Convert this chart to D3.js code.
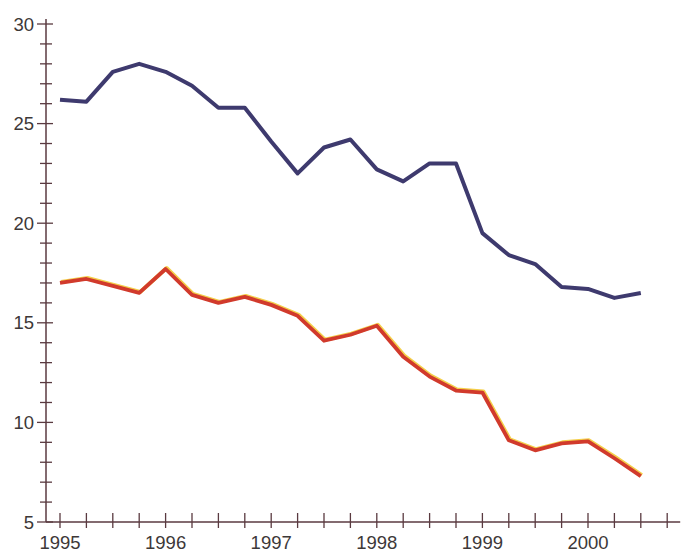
<!DOCTYPE html>
<html>
<head>
<meta charset="utf-8">
<script src="https://cdn.jsdelivr.net/npm/d3@7"></script>
<style>
  body { margin: 0; background: #fff; }
  text { font-family: "Liberation Sans", Arial, sans-serif; fill: #3d3838; }
</style>
</head>
<body>
<div id="chart"></div>
<script>
// quarterly periods (decimal years)
var periods = [1995.0, 1995.25, 1995.5, 1995.75, 1996.0, 1996.25, 1996.5, 1996.75,
               1997.0, 1997.25, 1997.5, 1997.75, 1998.0, 1998.25, 1998.5, 1998.75,
               1999.0, 1999.25, 1999.5, 1999.75, 2000.0, 2000.25, 2000.5];

var upperSeries = [26.2, 26.1, 27.6, 28.0, 27.6, 26.9, 25.8, 25.8,
                   24.1, 22.5, 23.8, 24.2, 22.7, 22.1, 23.0, 23.0,
                   19.5, 18.4, 17.95, 16.8, 16.7, 16.25, 16.5];

var lowerSeries = [17.0, 17.2, 16.85, 16.5, 17.7, 16.4, 16.0, 16.3,
                   15.9, 15.35, 14.1, 14.4, 14.85, 13.3, 12.3, 11.6,
                   11.5, 9.1, 8.6, 8.95, 9.05, 8.2, 7.3];

var yearTicks = [1995, 1996, 1997, 1998, 1999, 2000];
var yMajorTicks = [5, 10, 15, 20, 25, 30];
var xQuarterTicks = [1995, 1995.25, 1995.5, 1995.75, 1996, 1996.25, 1996.5, 1996.75,
                     1997, 1997.25, 1997.5, 1997.75, 1998, 1998.25, 1998.5, 1998.75,
                     1999, 1999.25, 1999.5, 1999.75, 2000, 2000.25, 2000.5, 2000.75];
var yMinorTicks = [6, 7, 8, 9, 11, 12, 13, 14, 16, 17, 18, 19, 21, 22, 23, 24, 26, 27, 28, 29];

var width = 689, height = 555;
var axisColor = "#5a3a40";

var x = d3.scaleLinear().domain([1995, 2000]).range([60, 588]);
var y = d3.scaleLinear().domain([5, 30]).range([522, 24]);

var svg = d3.select("#chart").append("svg")
    .attr("width", width)
    .attr("height", height);

var x0 = 46;       // y axis position
var yBase = y(5);  // x axis position

// y axis line
svg.append("line")
    .attr("x1", x0).attr("x2", x0)
    .attr("y1", y(30) - 5).attr("y2", yBase)
    .style("stroke", axisColor).style("stroke-width", 1.5);

// x axis line
svg.append("line")
    .attr("x1", x0).attr("x2", x(2000.75) + 13)
    .attr("y1", yBase).attr("y2", yBase)
    .style("stroke", axisColor).style("stroke-width", 1.5);

// y minor ticks (cross the axis)
svg.append("g").selectAll("line")
    .data(yMinorTicks).enter().append("line")
    .attr("x1", x0 - 6).attr("x2", x0 + 6)
    .attr("y1", function(d) { return y(d); })
    .attr("y2", function(d) { return y(d); })
    .style("stroke", axisColor).style("stroke-width", 1.3);

// y major ticks
svg.append("g").selectAll("line")
    .data(yMajorTicks).enter().append("line")
    .attr("x1", x0 - 9).attr("x2", x0 + 7)
    .attr("y1", function(d) { return y(d); })
    .attr("y2", function(d) { return y(d); })
    .style("stroke", axisColor).style("stroke-width", 1.3);

svg.append("g").selectAll("text")
    .data(yMajorTicks).enter().append("text")
    .attr("x", 34)
    .attr("y", function(d) { return y(d); })
    .attr("dy", "0.36em")
    .attr("text-anchor", "end")
    .style("font-size", "18.5px")
    .text(function(d) { return d; });

// x quarter ticks
svg.append("g").selectAll("line")
    .data(xQuarterTicks).enter().append("line")
    .attr("x1", function(d) { return x(d); })
    .attr("x2", function(d) { return x(d); })
    .attr("y1", yBase - 9).attr("y2", yBase + 6)
    .style("stroke", axisColor).style("stroke-width", 1.3);

svg.append("g").selectAll("text")
    .data(yearTicks).enter().append("text")
    .attr("x", function(d) { return x(d); })
    .attr("y", yBase + 20)
    .attr("dy", "0.36em")
    .attr("text-anchor", "middle")
    .style("font-size", "18.5px")
    .text(function(d) { return d; });

var valueline = d3.line()
    .x(function(d, i) { return x(periods[i]); })
    .y(function(d) { return y(d); });

// lower series: yellow halo slightly offset under the red stroke
svg.append("path")
    .datum(lowerSeries)
    .attr("d", valueline)
    .attr("transform", "translate(1,-1)")
    .style("fill", "none")
    .style("stroke", "#f4cf4a")
    .style("stroke-width", 4)
    .style("stroke-linejoin", "round");

svg.append("path")
    .datum(lowerSeries)
    .attr("d", valueline)
    .style("fill", "none")
    .style("stroke", "#d13a2c")
    .style("stroke-width", 3.8)
    .style("stroke-linejoin", "round");

svg.append("path")
    .datum(upperSeries)
    .attr("d", valueline)
    .style("fill", "none")
    .style("stroke", "#3e3a6e")
    .style("stroke-width", 4)
    .style("stroke-linejoin", "round");
</script>
</body>
</html>
